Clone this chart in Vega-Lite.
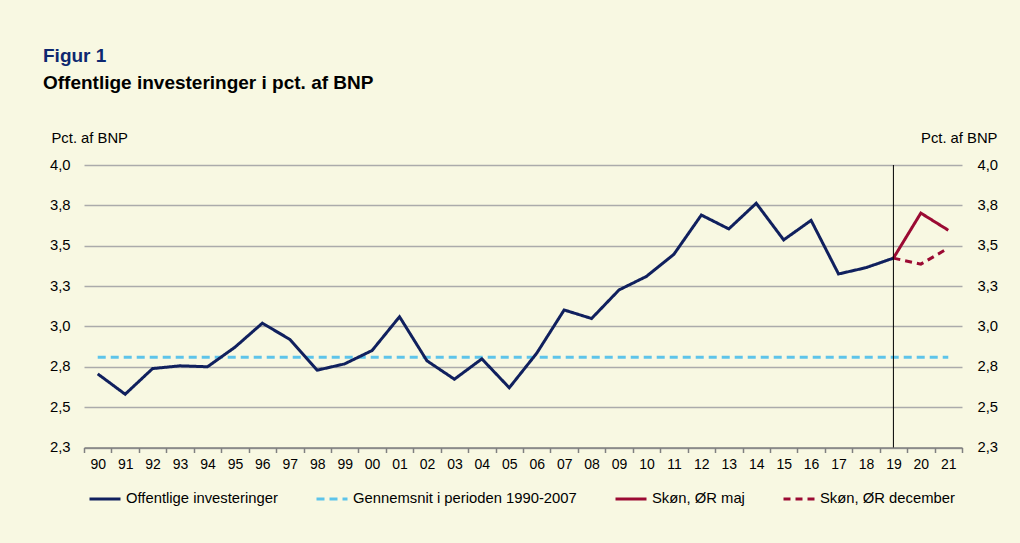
{
  "$schema": "https://vega.github.io/schema/vega-lite/v6.json",
  "width": 878,
  "height": 282.5,
  "autosize": {"type": "none"},
  "padding": {"left": 84, "top": 165, "right": 58, "bottom": 95.5},
  "background": "#F8F8E2",
  "config": {
    "view": {"stroke": null},
    "font": "Liberation Sans"
  },
  "title": {
    "text": "Figur 1",
    "subtitle": "Offentlige investeringer i pct. af BNP",
    "anchor": "start",
    "frame": "group",
    "dx": -41,
    "fontSize": 19,
    "fontWeight": "bold",
    "color": "#0E2870",
    "subtitleFontSize": 19,
    "subtitleFontWeight": "bold",
    "subtitleColor": "#000000",
    "subtitlePadding": 8,
    "offset": 38
  },
  "datasets": {
    "series": [
      {"yr": "90", "v": 2.706, "s": "Offentlige investeringer"},
      {"yr": "91", "v": 2.58, "s": "Offentlige investeringer"},
      {"yr": "92", "v": 2.739, "s": "Offentlige investeringer"},
      {"yr": "93", "v": 2.756, "s": "Offentlige investeringer"},
      {"yr": "94", "v": 2.75, "s": "Offentlige investeringer"},
      {"yr": "95", "v": 2.871, "s": "Offentlige investeringer"},
      {"yr": "96", "v": 3.02, "s": "Offentlige investeringer"},
      {"yr": "97", "v": 2.92, "s": "Offentlige investeringer"},
      {"yr": "98", "v": 2.729, "s": "Offentlige investeringer"},
      {"yr": "99", "v": 2.768, "s": "Offentlige investeringer"},
      {"yr": "00", "v": 2.851, "s": "Offentlige investeringer"},
      {"yr": "01", "v": 3.06, "s": "Offentlige investeringer"},
      {"yr": "02", "v": 2.787, "s": "Offentlige investeringer"},
      {"yr": "03", "v": 2.673, "s": "Offentlige investeringer"},
      {"yr": "04", "v": 2.799, "s": "Offentlige investeringer"},
      {"yr": "05", "v": 2.62, "s": "Offentlige investeringer"},
      {"yr": "06", "v": 2.834, "s": "Offentlige investeringer"},
      {"yr": "07", "v": 3.102, "s": "Offentlige investeringer"},
      {"yr": "08", "v": 3.049, "s": "Offentlige investeringer"},
      {"yr": "09", "v": 3.226, "s": "Offentlige investeringer"},
      {"yr": "10", "v": 3.31, "s": "Offentlige investeringer"},
      {"yr": "11", "v": 3.447, "s": "Offentlige investeringer"},
      {"yr": "12", "v": 3.69, "s": "Offentlige investeringer"},
      {"yr": "13", "v": 3.604, "s": "Offentlige investeringer"},
      {"yr": "14", "v": 3.763, "s": "Offentlige investeringer"},
      {"yr": "15", "v": 3.536, "s": "Offentlige investeringer"},
      {"yr": "16", "v": 3.657, "s": "Offentlige investeringer"},
      {"yr": "17", "v": 3.325, "s": "Offentlige investeringer"},
      {"yr": "18", "v": 3.364, "s": "Offentlige investeringer"},
      {"yr": "19", "v": 3.423, "s": "Offentlige investeringer"},
      {"yr": "90", "v": 2.809, "s": "Gennemsnit i perioden 1990-2007"},
      {"yr": "21", "v": 2.809, "s": "Gennemsnit i perioden 1990-2007"},
      {"yr": "19", "v": 3.423, "s": "Skøn, ØR maj"},
      {"yr": "20", "v": 3.702, "s": "Skøn, ØR maj"},
      {"yr": "21", "v": 3.596, "s": "Skøn, ØR maj"},
      {"yr": "19", "v": 3.423, "s": "Skøn, ØR december"},
      {"yr": "20", "v": 3.386, "s": "Skøn, ØR december"},
      {"yr": "21", "v": 3.485, "s": "Skøn, ØR december"}
    ],
    "marker": [{"yr": "19"}]
  },
  "encoding": {
    "x": {
      "field": "yr",
      "type": "ordinal",
      "bandPosition": 0.5,
      "scale": {
        "type": "band",
        "paddingInner": 0,
        "paddingOuter": 0,
        "domain": ["90","91","92","93","94","95","96","97","98","99","00","01","02","03","04","05","06","07","08","09","10","11","12","13","14","15","16","17","18","19","20","21"]
      },
      "axis": {
        "title": null,
        "labelAngle": 0,
        "tickBand": "extent",
        "domainColor": "#808080",
        "domainWidth": 1.5,
        "tickColor": "#808080",
        "tickWidth": 1.5,
        "tickSize": 5,
        "labelPadding": 5,
        "labelFontSize": 14,
        "labelColor": "#000000",
        "grid": false
      }
    }
  },
  "layer": [
    {
      "data": {"name": "series"},
      "transform": [{"filter": "datum.s === 'Gennemsnit i perioden 1990-2007'"}],
      "mark": {"type": "line", "strokeWidth": 3},
      "encoding": {
        "y": {
          "field": "v",
          "type": "quantitative",
          "scale": {"domain": [2.25, 4.0], "nice": false, "zero": false},
          "axis": {
            "orient": "right",
            "title": "Pct. af BNP",
            "titleAngle": 0,
            "titleAlign": "right",
            "titleBaseline": "alphabetic",
            "titleX": 35,
            "titleY": -22.5,
            "titleFontWeight": "normal",
            "titleFontSize": 14.8,
            "titleColor": "#000000",
            "values": [2.25, 2.5, 2.75, 3.0, 3.25, 3.5, 3.75, 4.0],
            "labelExpr": "replace(format(datum.value, '.1f'), '.', ',')",
            "domain": false,
            "ticks": false,
            "labelPadding": 15,
            "labelFontSize": 14.8,
            "labelColor": "#000000",
            "grid": false
          }
        },
        "color": {
          "field": "s",
          "type": "nominal",
          "scale": {
            "domain": ["Offentlige investeringer", "Gennemsnit i perioden 1990-2007", "Skøn, ØR maj", "Skøn, ØR december"],
            "range": ["#10205E", "#5DC4EA", "#9B0A33", "#9B0A33"]
          },
          "legend": {
            "orient": "none",
            "legendX": 4,
            "legendY": 317,
            "direction": "horizontal",
            "columns": 4,
            "title": null,
            "symbolType": "stroke",
            "symbolSize": 961,
            "symbolStrokeWidth": 3,
            "labelFontSize": 14.8,
            "labelColor": "#000000",
            "labelOffset": 4,
            "columnPadding": 32,
            "padding": 0,
            "labelLimit": 400
          }
        },
        "strokeDash": {
          "field": "s",
          "type": "nominal",
          "scale": {
            "domain": ["Offentlige investeringer", "Gennemsnit i perioden 1990-2007", "Skøn, ØR maj", "Skøn, ØR december"],
            "range": [[1, 0], [8, 5], [1, 0], [7, 5]]
          },
          "legend": {
            "orient": "none",
            "legendX": 4,
            "legendY": 317,
            "direction": "horizontal",
            "columns": 4,
            "title": null,
            "symbolType": "stroke",
            "symbolSize": 961,
            "symbolStrokeWidth": 3,
            "labelFontSize": 14.8,
            "labelColor": "#000000",
            "labelOffset": 4,
            "columnPadding": 32,
            "padding": 0,
            "labelLimit": 400
          }
        }
      }
    },
    {
      "data": {"name": "series"},
      "transform": [{"filter": "datum.s !== 'Gennemsnit i perioden 1990-2007'"}],
      "mark": {"type": "line", "strokeWidth": 3},
      "encoding": {
        "y": {
          "field": "v",
          "type": "quantitative",
          "scale": {"domain": [2.25, 4.0], "nice": false, "zero": false},
          "axis": {
            "orient": "left",
            "title": "Pct. af BNP",
            "titleAngle": 0,
            "titleAlign": "left",
            "titleBaseline": "alphabetic",
            "titleX": -33,
            "titleY": -22.5,
            "titleFontWeight": "normal",
            "titleFontSize": 14.8,
            "titleColor": "#000000",
            "values": [2.25, 2.5, 2.75, 3.0, 3.25, 3.5, 3.75, 4.0],
            "labelExpr": "replace(format(datum.value, '.1f'), '.', ',')",
            "domain": false,
            "ticks": false,
            "labelPadding": 14,
            "labelFontSize": 14.8,
            "labelColor": "#000000",
            "grid": true,
            "gridColor": "#ABABAB",
            "gridWidth": 1.5
          }
        },
        "color": {"field": "s", "type": "nominal"},
        "strokeDash": {"field": "s", "type": "nominal"}
      }
    },
    {
      "data": {"name": "marker"},
      "mark": {"type": "rule", "color": "#000000", "strokeWidth": 1},
      "encoding": {}
    }
  ],
  "resolve": {"axis": {"y": "independent"}}
}
